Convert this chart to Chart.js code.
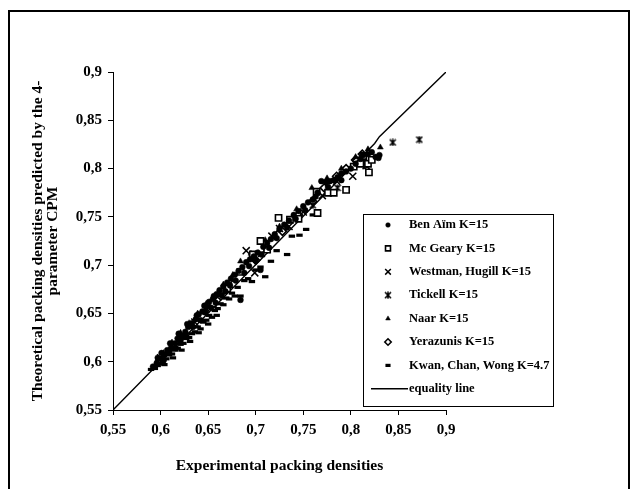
<!DOCTYPE html>
<html>
<head>
<meta charset="utf-8">
<script src="https://cdn.jsdelivr.net/npm/chart.js@4.4.0/dist/chart.umd.min.js"></script>
<style>
html, body { margin: 0; padding: 0; background: #fff; }
</style>
</head>
<body>
<canvas id="chart" width="632" height="489"></canvas>
<script>
// axis ticks
const xTickValues = [0.55, 0.6, 0.65, 0.7, 0.75, 0.8, 0.85, 0.9];
const yTickValues = [0.55, 0.6, 0.65, 0.7, 0.75, 0.8, 0.85, 0.9];

// [experimental, theoretical] pairs
const benAim = [
    [0.592, 0.595], [0.596, 0.598], [0.597, 0.604], [0.600, 0.603], [0.601, 0.609], [0.603, 0.601],
    [0.604, 0.607], [0.607, 0.612], [0.609, 0.610], [0.610, 0.619], [0.611, 0.614], [0.615, 0.619],
    [0.616, 0.614], [0.618, 0.624], [0.619, 0.629], [0.621, 0.622], [0.622, 0.626], [0.626, 0.631],
    [0.627, 0.627], [0.628, 0.639], [0.629, 0.636], [0.633, 0.640], [0.634, 0.636], [0.637, 0.644],
    [0.638, 0.648], [0.640, 0.649], [0.642, 0.643], [0.644, 0.652], [0.646, 0.658], [0.647, 0.651],
    [0.648, 0.657], [0.651, 0.662], [0.653, 0.656], [0.655, 0.665], [0.656, 0.668], [0.658, 0.661],
    [0.659, 0.670], [0.662, 0.674], [0.664, 0.669], [0.666, 0.678], [0.668, 0.673], [0.670, 0.682],
    [0.673, 0.679], [0.674, 0.686], [0.678, 0.690], [0.679, 0.684], [0.682, 0.694], [0.684, 0.664],
    [0.686, 0.698], [0.688, 0.692], [0.690, 0.703], [0.693, 0.699], [0.694, 0.706], [0.698, 0.709],
    [0.700, 0.705], [0.702, 0.713], [0.705, 0.695], [0.706, 0.711], [0.708, 0.719], [0.712, 0.723],
    [0.714, 0.718], [0.716, 0.727], [0.720, 0.732], [0.722, 0.728], [0.725, 0.737], [0.730, 0.742],
    [0.733, 0.739], [0.735, 0.746], [0.740, 0.752], [0.742, 0.748], [0.745, 0.756], [0.750, 0.761],
    [0.752, 0.757], [0.755, 0.765], [0.760, 0.768], [0.763, 0.771], [0.765, 0.775], [0.769, 0.787],
    [0.774, 0.786], [0.776, 0.781], [0.778, 0.787], [0.782, 0.788], [0.786, 0.791], [0.790, 0.795],
    [0.790, 0.788], [0.795, 0.797], [0.800, 0.800], [0.805, 0.805], [0.810, 0.810], [0.813, 0.814],
    [0.818, 0.815], [0.822, 0.817], [0.826, 0.812], [0.829, 0.811], [0.830, 0.814]
];
const mcGeary = [
    [0.655, 0.660], [0.670, 0.676], [0.684, 0.693], [0.697, 0.711], [0.705, 0.725], [0.712, 0.716],
    [0.724, 0.749], [0.736, 0.747], [0.745, 0.748], [0.764, 0.776], [0.765, 0.754], [0.776, 0.775],
    [0.782, 0.775], [0.795, 0.778], [0.803, 0.802], [0.810, 0.805], [0.813, 0.813], [0.818, 0.805],
    [0.819, 0.796], [0.822, 0.809]
];
const westman = [
    [0.600, 0.604], [0.612, 0.617], [0.624, 0.628], [0.636, 0.641], [0.648, 0.655], [0.660, 0.667],
    [0.672, 0.680], [0.690, 0.715], [0.699, 0.692], [0.706, 0.712], [0.717, 0.730], [0.725, 0.738],
    [0.735, 0.740], [0.750, 0.755], [0.770, 0.772], [0.785, 0.787], [0.802, 0.792], [0.816, 0.803]
];
const tickell = [
    [0.618, 0.622], [0.665, 0.668], [0.712, 0.716], [0.760, 0.762], [0.786, 0.780], [0.844, 0.827],
    [0.872, 0.830]
];
const naar = [
    [0.596, 0.601], [0.603, 0.609], [0.612, 0.620], [0.621, 0.630], [0.630, 0.640], [0.639, 0.650],
    [0.648, 0.660], [0.657, 0.668], [0.666, 0.680], [0.676, 0.690], [0.684, 0.704], [0.695, 0.712],
    [0.710, 0.726], [0.725, 0.740], [0.743, 0.758], [0.759, 0.780], [0.775, 0.790], [0.790, 0.800],
    [0.805, 0.812], [0.818, 0.820], [0.831, 0.822]
];
const yerazunis = [
    [0.700, 0.705], [0.712, 0.718], [0.728, 0.735], [0.745, 0.752], [0.760, 0.766], [0.772, 0.780],
    [0.785, 0.792], [0.795, 0.800], [0.805, 0.809], [0.806, 0.808], [0.815, 0.804], [0.812, 0.815]
];
const kwan = [
    [0.590, 0.592], [0.594, 0.593], [0.597, 0.596], [0.600, 0.598], [0.603, 0.602], [0.604, 0.597],
    [0.606, 0.603], [0.609, 0.607], [0.612, 0.608], [0.613, 0.604], [0.615, 0.612], [0.618, 0.614],
    [0.621, 0.618], [0.622, 0.612], [0.624, 0.619], [0.627, 0.624], [0.630, 0.625], [0.631, 0.621],
    [0.633, 0.629], [0.636, 0.631], [0.639, 0.636], [0.640, 0.630], [0.642, 0.634], [0.645, 0.641],
    [0.648, 0.643], [0.650, 0.639], [0.651, 0.648], [0.654, 0.646], [0.657, 0.653], [0.659, 0.648],
    [0.660, 0.655], [0.663, 0.660], [0.666, 0.659], [0.669, 0.666], [0.672, 0.665], [0.675, 0.671],
    [0.678, 0.668], [0.681, 0.677], [0.684, 0.668], [0.688, 0.684], [0.692, 0.686], [0.696, 0.683],
    [0.700, 0.695], [0.705, 0.698], [0.710, 0.688], [0.716, 0.704], [0.722, 0.715], [0.733, 0.711],
    [0.738, 0.730], [0.746, 0.731], [0.753, 0.737], [0.760, 0.752]
];
const equalityLine = [[0.55, 0.55], [0.825, 0.826], [0.830, 0.833], [0.9, 0.9]];

const pts = arr => arr.map(([x, y]) => ({ x, y }));
const fmt = v => (Math.round(v * 100) / 100).toString().replace('.', ',');
const FONT = '"Liberation Serif", "Times New Roman", serif';

// asterisk marker (X with a vertical bar), like the spreadsheet "star"
function starMarker(size) {
    const c = document.createElement('canvas');
    c.width = size; c.height = size;
    const g = c.getContext('2d');
    const m = 1, e = size - 1, h = size / 2;
    g.strokeStyle = '#000';
    g.lineWidth = 1.6;
    g.beginPath();
    g.moveTo(m, m); g.lineTo(e, e);
    g.moveTo(e, m); g.lineTo(m, e);
    g.moveTo(h, m - 0.5); g.lineTo(h, e + 0.5);
    g.stroke();
    return c;
}

function marker(label, data, style, radius, filled, extra = {}) {
    return Object.assign({
        label,
        data: pts(data),
        pointStyle: style,
        pointRadius: radius,
        pointHoverRadius: radius,
        pointBackgroundColor: filled ? '#000' : '#fff',
        pointBorderColor: '#000',
        pointBorderWidth: 1.4,
        showLine: false
    }, extra);
}

const datasets = [
    marker('Ben Aïm K=15', benAim, 'circle', 2.9, true, { pointBorderWidth: 0.5 }),
    marker('Mc Geary K=15', mcGeary, 'rect', 4.4, false, { pointBorderWidth: 1.6 }),
    marker('Westman, Hugill K=15', westman, 'crossRot', 5, false, { pointBorderWidth: 1.5 }),
    marker('Tickell K=15', tickell, starMarker(8), 4, false),
    marker('Naar K=15', naar, 'triangle', 3.4, true, { pointBorderWidth: 0.5 }),
    marker('Yerazunis K=15', yerazunis, 'rectRot', 4, false, { pointBorderWidth: 1.6 }),
    marker('Kwan, Chan, Wong K=4.7', kwan, 'line', 3.2, false, { pointBorderWidth: 3.2 }),
    {
        label: 'equality line',
        data: pts(equalityLine),
        showLine: true,
        borderColor: '#000',
        borderWidth: 1.4,
        pointRadius: 0,
        pointHoverRadius: 0,
        fill: false
    }
];

const framePlugin = {
    id: 'frame',
    beforeDraw(chart) {
        const ctx = chart.ctx;
        ctx.save();
        ctx.fillStyle = '#fff';
        ctx.fillRect(0, 0, chart.width, chart.height);
        ctx.strokeStyle = '#000';
        ctx.lineWidth = 2;
        ctx.strokeRect(9, 11, 620, 520);
        ctx.restore();
    }
};

const boxLegend = {
    id: 'boxLegend',
    afterDraw(chart) {
        const ctx = chart.ctx;
        const left = 363.5, top = 214.5, w = 190, h = 192;
        ctx.save();
        ctx.fillStyle = '#fff';
        ctx.fillRect(left, top, w, h);
        ctx.strokeStyle = '#000';
        ctx.lineWidth = 1;
        ctx.strokeRect(left, top, w, h);
        ctx.font = 'bold 12.5px ' + FONT;
        ctx.textBaseline = 'middle';
        chart.data.datasets.forEach((ds, i) => {
            const y = 225 + i * 23.4;
            if (ds.showLine) {
                ctx.strokeStyle = '#000';
                ctx.lineWidth = 1.4;
                ctx.beginPath();
                ctx.moveTo(371, y);
                ctx.lineTo(408, y);
                ctx.stroke();
            } else if (Chart.helpers && Chart.helpers.drawPoint) {
                ctx.fillStyle = ds.pointBackgroundColor;
                ctx.strokeStyle = '#000';
                ctx.lineWidth = ds.pointBorderWidth;
                Chart.helpers.drawPoint(ctx, {
                    pointStyle: ds.pointStyle,
                    radius: ds.pointRadius * 0.8,
                    rotation: 0,
                    borderWidth: ds.pointBorderWidth
                }, 388, y);
            }
            ctx.fillStyle = '#000';
            ctx.fillText(ds.label, 409, y);
        });
        ctx.restore();
    }
};

const tickFont = { family: FONT, size: 15, weight: 'bold' };
const titleFont = { family: FONT, size: 15.5, weight: 'bold', lineHeight: 1.0 };

function axis(titleText, titlePadding, ticks, size, tickPadding) {
    return {
        type: 'linear',
        min: 0.55,
        max: 0.9,
        afterBuildTicks: scale => { scale.ticks = ticks.map(value => ({ value })); },
        afterFit: size,
        grid: { drawOnChartArea: false, drawTicks: true, tickLength: 5, color: '#000', lineWidth: 1 },
        border: { display: true, color: '#000', width: 1 },
        ticks: { color: '#000', font: tickFont, callback: fmt, maxRotation: 0, autoSkip: false, padding: tickPadding },
        title: { display: true, text: titleText, color: '#000', font: titleFont, padding: titlePadding }
    };
}

new Chart(document.getElementById('chart'), {
    type: 'scatter',
    data: { datasets },
    options: {
        responsive: false,
        animation: false,
        events: [],
        layout: { padding: { top: 72, right: 186, left: 9, bottom: 0 } },
        plugins: { legend: { display: false }, tooltip: { enabled: false } },
        scales: {
            x: axis('Experimental packing densities', { top: 0, bottom: 15 }, xTickValues,
                s => { s.height = 79; }, 6),
            y: axis(['Theoretical packing densities predicted by the 4-', 'parameter CPM'], { top: 21, bottom: 0 }, yTickValues,
                s => { s.width = 104; }, 6)
        }
    },
    plugins: [framePlugin, boxLegend]
});
</script>
</body>
</html>
